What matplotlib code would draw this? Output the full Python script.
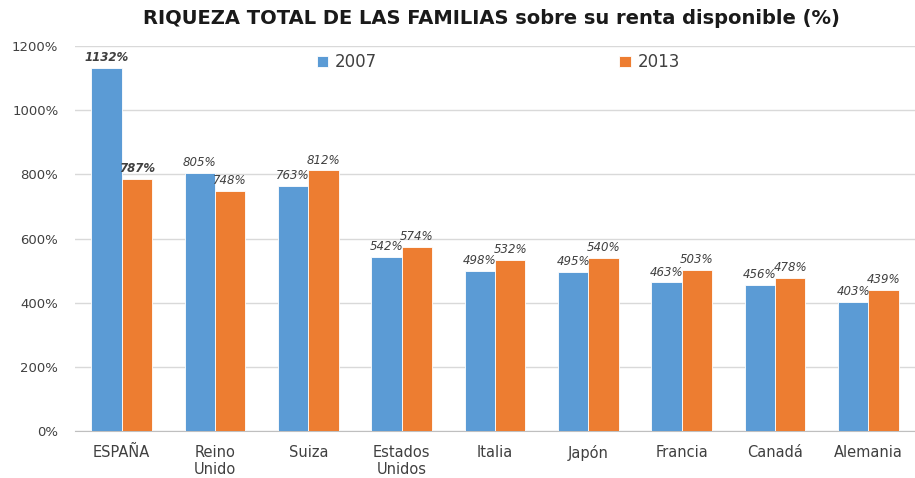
import matplotlib.pyplot as plt
import numpy as np

paises = ["ESPAÑA", "Reino\nUnido", "Suiza", "Estados\nUnidos", "Italia",
          "Japón", "Francia", "Canadá", "Alemania"]
riqueza_2007 = [1132, 805, 763, 542, 498, 495, 463, 456, 403]
riqueza_2013 = [787, 748, 812, 574, 532, 540, 503, 478, 439]
yticks = [0, 200, 400, 600, 800, 1000, 1200]

plt.rcParams['font.family'] = ['DejaVu Sans']

azul = "#5B9BD5"
naranja = "#ED7D31"
gris = "#404040"

fig = plt.figure(figsize=(9.15, 4.78), dpi=100)
ax = fig.add_axes([75 / 915, 47 / 478, 840 / 915, 385 / 478])

x = np.arange(len(paises))
w = 0.325
ax.bar(x - w / 2, riqueza_2007, w, color=azul, edgecolor="white", linewidth=0.6, label="2007", zorder=3)
ax.bar(x + w / 2, riqueza_2013, w, color=naranja, edgecolor="white", linewidth=0.6, label="2013", zorder=3)

for i, (v1, v2) in enumerate(zip(riqueza_2007, riqueza_2013)):
    peso = "bold" if i == 0 else "normal"
    ax.text(x[i] - w / 2, v1 + 12, f"{v1}%", ha="center", va="bottom", fontsize=8.5,
            style="italic", weight=peso, color=gris, clip_on=False)
    ax.text(x[i] + w / 2, v2 + 12, f"{v2}%", ha="center", va="bottom", fontsize=8.5,
            style="italic", weight=peso, color=gris, clip_on=False)

ax.set_xlim(-0.5, len(paises) - 0.5)
ax.set_ylim(0, 1200)
ax.set_yticks(yticks)
ax.set_yticklabels([f"{t}%" for t in yticks], fontsize=9.5, color=gris)
ax.set_xticks(x)
ax.set_xticklabels(paises, fontsize=10.5, color=gris)
ax.tick_params(axis="both", length=0)
ax.tick_params(axis="x", pad=10)
ax.tick_params(axis="y", pad=12)
ax.grid(axis="y", color="#d9d9d9", linewidth=1, zorder=0)
for s in ["top", "right", "left"]:
    ax.spines[s].set_visible(False)
ax.spines["bottom"].set_color("#bfbfbf")

ax.legend(loc="upper left", bbox_to_anchor=(0.27, 1.02), ncol=2, frameon=False,
          fontsize=12, columnspacing=14.5, handlelength=0.7, handleheight=0.7,
          handletextpad=0.4, labelcolor=gris)

fig.text(0.537, 0.962, "RIQUEZA TOTAL DE LAS FAMILIAS sobre su renta disponible (%)",
         ha="center", va="center", fontsize=14, weight="bold", color="#1a1a1a")

fig.savefig("out.png", dpi=100)
